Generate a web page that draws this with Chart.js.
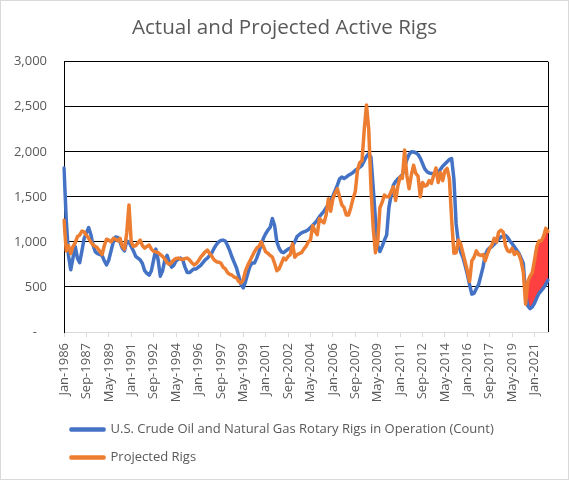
<!DOCTYPE html>
<html>
<head>
<meta charset="utf-8">
<title>Actual and Projected Active Rigs</title>
<script src="https://cdn.jsdelivr.net/npm/chart.js@4.4.0/dist/chart.umd.min.js"></script>
<style>
  html, body { margin: 0; padding: 0; background: #fff; }
  #frame { width: 569px; height: 480px; box-sizing: border-box; border: 1px solid #d9d9d9; }
</style>
</head>
<body>
<div id="frame"><canvas id="rigs-chart"></canvas></div>
<script>
// one point every two months, Jan-1986 .. Jan-2022
const MONTHS = ['Jan', 'Feb', 'Mar', 'Apr', 'May', 'Jun', 'Jul', 'Aug', 'Sep', 'Oct', 'Nov', 'Dec'];
const START_YEAR = 1986;
const MONTH_STEP = 2;

// rigs in operation (count)
const actualRigs = [
  1820, 1250, 850, 690, 820, 950, 820, 770, 900, 1040,
  1100, 1160, 1080, 960, 890, 870, 860, 850, 790, 745,
  800, 900, 1000, 1055, 1050, 1000, 930, 900, 1010, 1000,
  950, 900, 840, 820, 800, 760, 680, 650, 630, 680,
  800, 920, 800, 620, 680, 800, 850, 780, 720, 740,
  790, 810, 820, 800, 720, 660, 660, 680, 700, 700,
  720, 740, 770, 800, 820, 850, 880, 930, 970, 1000,
  1015, 1020, 1010, 960, 900, 830, 770, 710, 620, 530,
  490, 560, 650, 730, 765, 765, 820, 890, 970, 1040,
  1090, 1130, 1160, 1260, 1180, 1000, 930, 890, 880, 900,
  920, 930, 960, 1000, 1060, 1080, 1100, 1110, 1120, 1135,
  1160, 1185, 1210, 1240, 1280, 1310, 1340, 1380, 1410, 1460,
  1510, 1570, 1630, 1700, 1720, 1705, 1720, 1740, 1755, 1770,
  1795, 1810, 1830, 1850, 1900, 1950, 1980, 1940, 1600, 1250,
  960, 893, 950, 1020, 1077, 1380, 1520, 1630, 1670, 1700,
  1720, 1745, 1830, 1910, 1970, 2000, 1998, 1990, 1970, 1930,
  1870, 1810, 1780, 1765, 1760, 1760, 1765, 1775, 1805, 1840,
  1865, 1890, 1915, 1925, 1700, 1200, 990, 890, 830, 740,
  640, 525, 420, 430, 480, 525, 620, 720, 856, 910,
  935, 948, 975, 1000, 1030, 1055, 1065, 1075, 1050, 1010,
  980, 945, 910, 875, 820, 760, 413, 290, 260, 280,
  320, 380, 430, 460, 490, 530, 575
];

const projectedRigs = [
  1240, 900, 960, 870, 950, 990, 1060, 1075, 1120, 1110,
  1075, 1040, 1000, 965, 950, 930, 895, 860, 960, 1030,
  1020, 1000, 1040, 1030, 1010, 1040, 950, 920, 1100, 1410,
  1000, 950, 960, 990, 1020, 960, 930, 950, 965, 920,
  895, 890, 880, 860, 840, 810, 770, 750, 770, 800,
  815, 820, 810, 805, 815, 820, 800, 770, 745, 760,
  790, 830, 860, 890, 910, 870, 840, 800, 780, 775,
  765, 720, 700, 660, 640, 630, 610, 600, 560, 545,
  580, 680, 740, 790, 840, 890, 930, 950, 1000, 950,
  890, 875, 850, 830, 760, 680, 700, 760, 820, 800,
  840, 860, 980, 830, 860, 870, 880, 920, 950, 1000,
  1020, 1180, 1120, 1080, 1260, 1230, 1210, 1300, 1480, 1340,
  1480, 1540, 1590, 1500, 1410, 1380, 1300, 1300, 1380, 1480,
  1560, 1800, 1880, 1900, 2250, 2520, 2250, 1600, 1150, 880,
  1000, 1380, 1440, 1520, 1500, 1500, 1560, 1610, 1460, 1620,
  1720, 1705, 2019, 1740, 1590, 1740, 1850, 1760, 1730, 1500,
  1660, 1620, 1630, 1680, 1650, 1740, 1820, 1660, 1770, 1680,
  1790, 1815, 1700, 1250, 875, 880, 1020, 980, 880, 780,
  680, 560, 790, 830, 900, 860, 850, 860, 790, 870,
  930, 965, 1040, 1000, 1110, 1130, 1110, 960, 900, 890,
  930, 860, 890, 860, 790, 660, 310, 560, 620, 660,
  800, 950, 1010, 1010, 1060, 1150, 1115
];

// labels printed under the x axis
const tickLabels = [
  'Jan-1986', 'Sep-1987', 'May-1989', 'Jan-1991', 'Sep-1992', 'May-1994',
  'Jan-1996', 'Sep-1997', 'May-1999', 'Jan-2001', 'Sep-2002', 'May-2004',
  'Jan-2006', 'Sep-2007', 'May-2009', 'Jan-2011', 'Sep-2012', 'May-2014',
  'Jan-2016', 'Sep-2017', 'May-2019', 'Jan-2021'
];

// shaded gap between projection and actual starts here
const gapStartLabel = 'May-2020';

const categories = [];
for (let i = 0; i < actualRigs.length; i++) {
  const m = i * MONTH_STEP;
  categories.push(MONTHS[m % 12] + '-' + (START_YEAR + Math.floor(m / 12)));
}
const gapStart = categories.indexOf(gapStartLabel);
const gapRigs = projectedRigs.map((v, i) => (i >= gapStart ? v : null));

const textGrey = '#595959';
const tickFont = { family: 'Open Sans', size: 13 };

// black line down the right side of the plot
const frameRight = {
  id: 'frameRight',
  beforeDatasetsDraw(chart) {
    const { ctx, chartArea } = chart;
    const x = Math.round(chartArea.right) + 0.5;
    ctx.save();
    ctx.strokeStyle = '#000';
    ctx.lineWidth = 1;
    ctx.beginPath();
    ctx.moveTo(x, chartArea.top);
    ctx.lineTo(x, chartArea.bottom);
    ctx.stroke();
    ctx.restore();
  }
};

// legend sits a little left of the plot edge
const legendNudge = {
  id: 'legendNudge',
  afterLayout(chart) {
    chart.legend.left -= 8;
    chart.legend.right -= 8;
  }
};

new Chart(document.getElementById('rigs-chart'), {
  type: 'line',
  data: {
    labels: categories,
    datasets: [
      {
        label: 'U.S. Crude Oil and Natural Gas Rotary Rigs in Operation (Count)',
        data: actualRigs,
        borderColor: '#4472C4',
        backgroundColor: '#4472C4',
        borderWidth: 3.5,
        borderJoinStyle: 'round',
        borderCapStyle: 'round',
        pointRadius: 0,
        fill: false,
        order: 2
      },
      {
        label: 'Projected Rigs',
        data: projectedRigs,
        borderColor: '#ED7D31',
        backgroundColor: '#ED7D31',
        borderWidth: 3.5,
        borderJoinStyle: 'round',
        borderCapStyle: 'round',
        pointRadius: 0,
        fill: false,
        order: 1
      },
      {
        label: 'gap',
        data: gapRigs,
        borderColor: 'rgba(0,0,0,0)',
        backgroundColor: 'rgb(255,64,64)',
        borderWidth: 0,
        pointRadius: 0,
        fill: 0,
        order: 3
      }
    ]
  },
  options: {
    responsive: true,
    maintainAspectRatio: false,
    animation: false,
    layout: { padding: { left: 0, right: 0, top: 0, bottom: 5 } },
    plugins: {
      title: {
        display: true,
        text: 'Actual and Projected Active Rigs',
        color: textGrey,
        font: { family: 'Open Sans', size: 20.6, weight: 'normal' },
        padding: { top: 15, bottom: 21 }
      },
      legend: {
        position: 'bottom',
        align: 'start',
        fullSize: false,
        labels: {
          color: textGrey,
          font: { family: 'Open Sans', size: 13 },
          boxWidth: 33,
          boxHeight: 1,
          padding: 15,
          filter: item => item.datasetIndex < 2,
          sort: (a, b) => a.datasetIndex - b.datasetIndex
        }
      },
      tooltip: { enabled: false }
    },
    scales: {
      x: {
        grid: { drawOnChartArea: false, drawTicks: true, tickLength: 5, color: '#D9D9D9' },
        border: { color: '#D9D9D9' },
        ticks: {
          autoSkip: false,
          maxRotation: 90,
          minRotation: 90,
          padding: 6,
          color: textGrey,
          font: tickFont,
          callback(value) {
            const label = this.getLabelForValue(value);
            return tickLabels.includes(label) ? label : null;
          }
        },
        afterFit(scale) { scale.height = 76; }
      },
      y: {
        min: 0,
        max: 3000,
        ticks: {
          stepSize: 500,
          padding: 17,
          color: textGrey,
          font: tickFont,
          callback: v => (v === 0 ? '-   ' : v.toLocaleString('en-US'))
        },
        grid: {
          drawTicks: false,
          color: ctx => (ctx.tick && ctx.tick.value === 0 ? 'rgba(0,0,0,0)' : '#000')
        },
        border: { color: '#000' },
        afterFit(scale) { scale.width = 63; }
      },
      // empty right-hand strip so the title stays centred on the whole chart
      spacer: {
        type: 'linear',
        position: 'right',
        display: true,
        grid: { display: false },
        border: { display: false },
        ticks: { display: false },
        afterFit(scale) { scale.width = 20; }
      }
    }
  },
  plugins: [frameRight, legendNudge]
});
</script>
</body>
</html>
